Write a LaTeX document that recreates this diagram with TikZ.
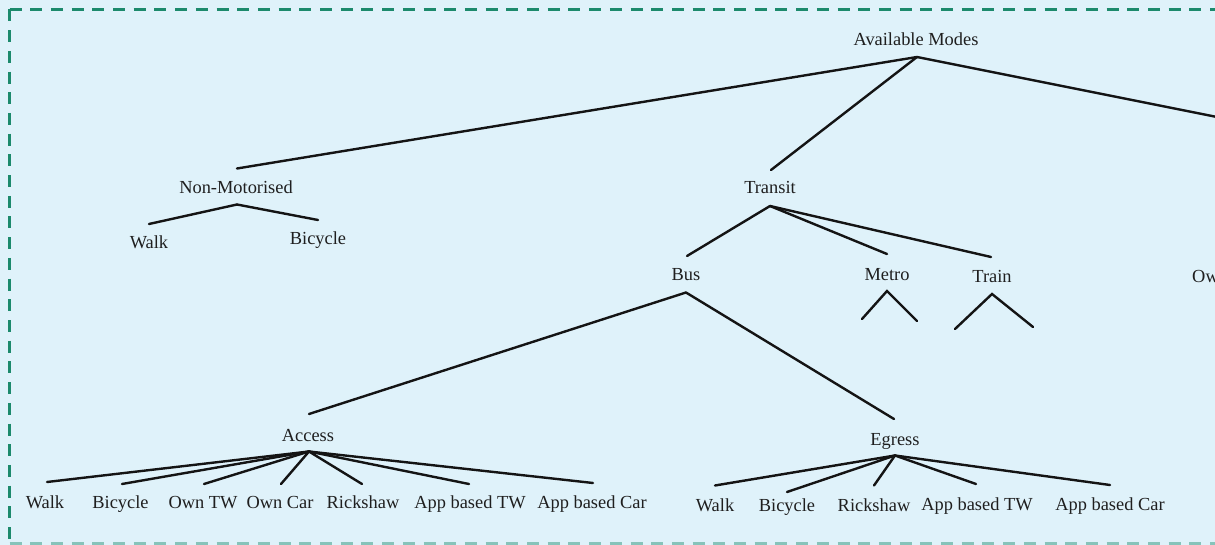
\documentclass[tikz,border=0pt]{standalone}
\usepackage{fontspec}
\setmainfont{Liberation Serif}
\definecolor{bgblue}{HTML}{DFF2FA}
\definecolor{frame}{HTML}{1C8A6C}
\tikzset{
  lbl/.style={inner sep=0pt, text height=12pt, text depth=0pt, font=\fontsize{18.4}{22}\selectfont, text=black!88},
  edge/.style={line width=2.4pt, black!92, line cap=round},
  framestyle/.style={line width=3.2pt, frame, dash pattern=on 12pt off 8.7pt}
}
\begin{document}
\begin{tikzpicture}[x=1pt,y=-1pt]
\useasboundingbox (0,0) rectangle (1215,545);
\clip (0,0) rectangle (1215,545);
\fill[bgblue] (0,0) rectangle (1215,545);
% frame
\coordinate (fTL) at (9.5,9.5);
\coordinate (fTR) at (1300,9.5);
\coordinate (fBL) at (9.5,544);
\coordinate (fBR) at (1300,544);
\draw[framestyle] (fTL) -- (fTR);
\draw[framestyle] (fTL) -- (fBL);
\draw[framestyle, frame!45!bgblue] (fBL) -- (fBR);

% nodes
\node[lbl] (am) at (916,40) {Available Modes};
\node[lbl] (nm) at (236,188) {Non-Motorised};
\node[lbl] (tr) at (770,188) {Transit};
\node[lbl] (nmw) at (149,243) {Walk};
\node[lbl] (nmb) at (318,239) {Bicycle};
\node[lbl] (bus) at (686,275) {Bus};
\node[lbl] (metro) at (887,274) {Metro};
\node[lbl] (train) at (992,277) {Train};
\node[lbl, anchor=west] (ow) at (1192,277) {Ow};
\node[lbl] (acc) at (308,435) {Access};
\node[lbl] (egr) at (895,439) {Egress};
% access children
\node[lbl] (a1) at (45,502) {Walk};
\node[lbl] (a2) at (120.5,502) {Bicycle};
\node[lbl] (a3) at (203,502) {Own TW};
\node[lbl] (a4) at (280,502) {Own Car};
\node[lbl] (a5) at (363,502) {Rickshaw};
\node[lbl] (a6) at (470,502) {App based TW};
\node[lbl] (a7) at (592,502) {App based Car};
% egress children
\node[lbl] (e1) at (715,505) {Walk};
\node[lbl] (e2) at (787,505) {Bicycle};
\node[lbl] (e3) at (874,505) {Rickshaw};
\node[lbl] (e4) at (977,504) {App based TW};
\node[lbl] (e5) at (1110,504) {App based Car};

% free ends
\coordinate (offright) at (1472,168);
\coordinate (m1) at (862,319);
\coordinate (m2) at (917,321);
\coordinate (t1) at (955,329);
\coordinate (t2) at (1033,327);

% connectors
\coordinate (amB) at (917,57);
\draw[edge] (amB) -- (237,168.5);
\draw[edge] (amB) -- (771,170);
\draw[edge] (amB) -- (offright);

\coordinate (nmB) at (237,204.5);
\draw[edge] (nmB) -- (149,224);
\draw[edge] (nmB) -- (318,220);

\coordinate (trB) at (770,206);
\draw[edge] (trB) -- (687,256);
\draw[edge] (trB) -- (887,254);
\draw[edge] (trB) -- (991,257);

\coordinate (busB) at (686,292.5);
\draw[edge] (busB) -- (309,414);
\draw[edge] (busB) -- (894,419);

\coordinate (meB) at (887,291);
\draw[edge] (m1) -- (meB) -- (m2);
\coordinate (trnB) at (992,294);
\draw[edge] (t1) -- (trnB) -- (t2);

\coordinate (accB) at (309,451.5);
\draw[edge] (accB) -- (47,482);
\draw[edge] (accB) -- (122,484);
\draw[edge] (accB) -- (204,484);
\draw[edge] (accB) -- (281,484);
\draw[edge] (accB) -- (362,484);
\draw[edge] (accB) -- (469,484);
\draw[edge] (accB) -- (593,483);

\coordinate (egB) at (895,455.5);
\draw[edge] (egB) -- (715,485.5);
\draw[edge] (egB) -- (787,492);
\draw[edge] (egB) -- (874,485.5);
\draw[edge] (egB) -- (976,484);
\draw[edge] (egB) -- (1110,485);
\end{tikzpicture}
\end{document}
